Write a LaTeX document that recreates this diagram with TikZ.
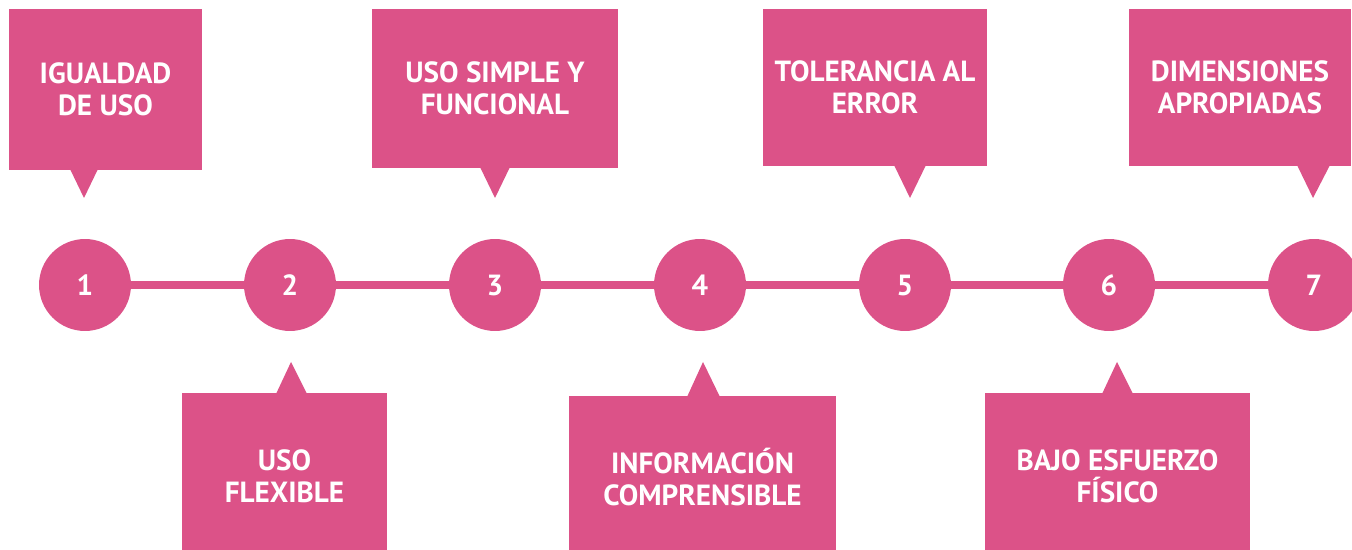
\documentclass[tikz,border=0pt]{standalone}
\usepackage{fontspec}
\setmainfont{PT Sans}
\usepackage{tikz}
\definecolor{rosa}{RGB}{220,82,136}
\tikzset{
  bubble/.style={fill=rosa,rectangle,inner sep=0pt,align=center,text=white,font=\bfseries\fontsize{16.6}{18.2}\selectfont},
  stepdot/.style={fill=rosa,circle,inner sep=0pt,minimum size=1.84cm,text=white,font=\bfseries\fontsize{16.6}{18.2}\selectfont},
  link/.style={draw=rosa,line width=0.16cm},
  tip/.style={fill=rosa},
}
\begin{document}
\begin{tikzpicture}[x=0.02cm,y=0.02cm]
  \useasboundingbox (0,0) rectangle (1352,-550);
  \clip (0,0) rectangle (1352,-550);
  % timeline
  \node[stepdot] (n1) at (85,-285) {1};
  \node[stepdot] (n2) at (290,-285) {2};
  \node[stepdot] (n3) at (495,-285) {3};
  \node[stepdot] (n4) at (700,-285) {4};
  \node[stepdot] (n5) at (905,-285) {5};
  \node[stepdot] (n6) at (1109,-285) {6};
  \node[stepdot] (n7) at (1314,-285) {7};
  \draw[link] (n1) -- (n2);
  \draw[link] (n2) -- (n3);
  \draw[link] (n3) -- (n4);
  \draw[link] (n4) -- (n5);
  \draw[link] (n5) -- (n6);
  \draw[link] (n6) -- (n7);
  % upper bubbles
  \node[bubble,minimum width=3.86cm,minimum height=3.22cm] (b1) at (105.5,-89.5) {IGUALDAD\\DE USO};
  \node[bubble,minimum width=4.92cm,minimum height=3.18cm] (b3) at (495,-88.5) {USO SIMPLE Y\\FUNCIONAL};
  \node[bubble,minimum width=4.48cm,minimum height=3.14cm] (b5) at (875,-87.5) {TOLERANCIA AL\\ERROR};
  \node[bubble,minimum width=4.44cm,minimum height=3.14cm] (b7) at (1240,-87.5) {DIMENSIONES\\APROPIADAS};
  \fill[tip] (70,-169) -- (98,-169) -- (84,-198) -- cycle;
  \fill[tip] (480,-167) -- (510,-167) -- (495,-198) -- cycle;
  \fill[tip] (894,-165) -- (926,-165) -- (910,-198) -- cycle;
  \fill[tip] (1297,-165) -- (1330,-165) -- (1313,-198) -- cycle;
  % lower bubbles
  \node[bubble,minimum width=4.10cm,minimum height=3.32cm] (b2) at (284.5,-476) {USO\\FLEXIBLE};
  \node[bubble,minimum width=5.34cm,minimum height=3.26cm] (b4) at (702.5,-477.5) {INFORMACIÓN\\COMPRENSIBLE};
  \node[bubble,minimum width=5.30cm,minimum height=3.32cm] (b6) at (1117.5,-476) {BAJO ESFUERZO\\FÍSICO};
  \fill[tip] (276,-394) -- (307,-394) -- (291,-362) -- cycle;
  \fill[tip] (687,-397) -- (720,-397) -- (703,-362) -- cycle;
  \fill[tip] (1102,-394) -- (1133,-394) -- (1117,-362) -- cycle;
\end{tikzpicture}
\end{document}
